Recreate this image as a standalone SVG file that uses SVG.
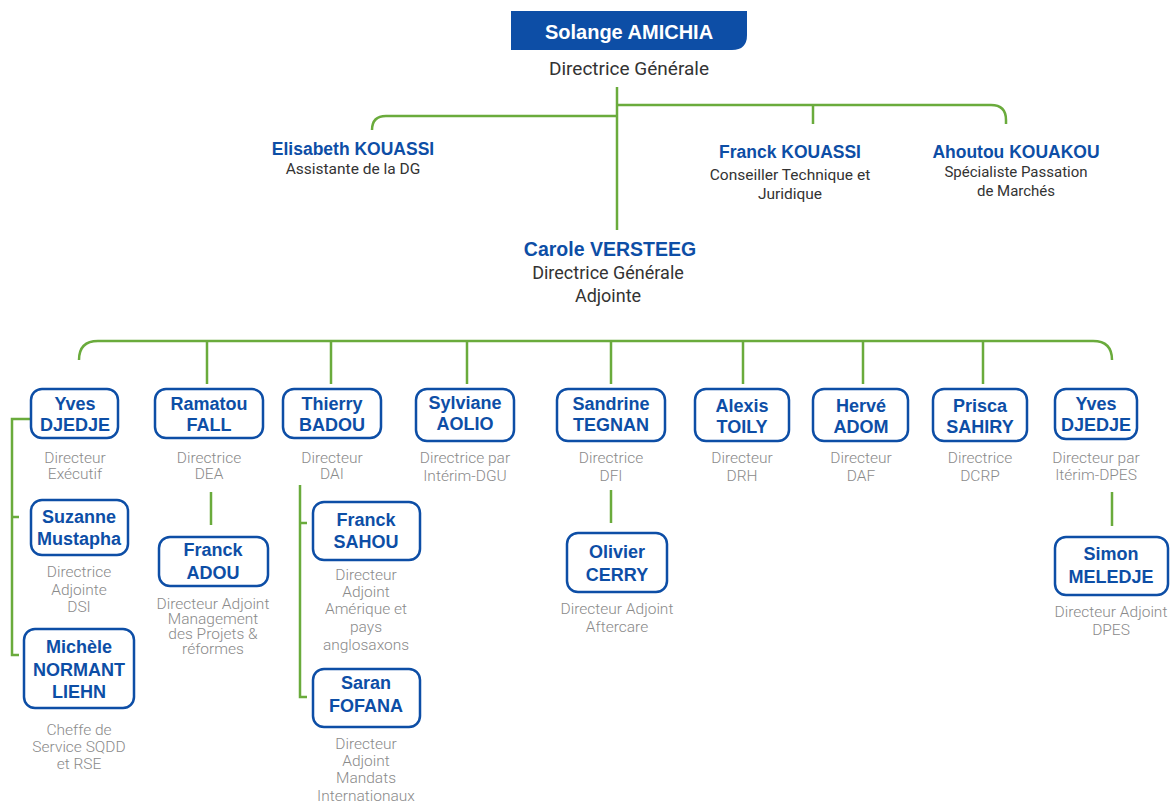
<svg xmlns="http://www.w3.org/2000/svg" width="1171" height="803" viewBox="0 0 1171 803">
<style>
.bg{fill:#ffffff}
.box{fill:#ffffff;stroke:#0d4ea6;stroke-width:2.5}
.nm{font-family:"Liberation Sans",Arial,sans-serif;font-weight:bold;font-size:18px;fill:#0d4ea6;text-anchor:middle}
.rl{font-family:Roboto,"Liberation Sans",sans-serif;font-weight:300;font-size:15.5px;fill:#8a8a8a;text-anchor:middle}
.tn{font-family:"Liberation Sans",Arial,sans-serif;font-weight:bold;fill:#0d4ea6;text-anchor:middle}
.tr{font-family:Roboto,"Liberation Sans",sans-serif;fill:#333333;text-anchor:middle}
.ln{fill:none;stroke:#6aab3c;stroke-width:2.5}
</style>
<rect class="bg" x="0" y="0" width="1171" height="803"/>
<g id="connectors">
<path class="ln" d="M617,87 V230"/>
<path class="ln" d="M617,105 H991 Q1006,105 1006,120 V124"/>
<path class="ln" d="M813,105 V124"/>
<path class="ln" d="M617,116 H386 Q372,116 372,130"/>
<path class="ln" d="M79,360 Q79,341 98,341 H1093 Q1112,341 1112,360"/>
<path class="ln" d="M207,341 V384 M331,341 V384 M467,341 V384 M611,341 V384 M743,341 V384 M863,341 V384 M983,341 V384"/>
<path class="ln" d="M31,419 H12 V655 H19 M12,517 H19"/>
<path class="ln" d="M300,485 V697 H307 M300,523 H307"/>
<path class="ln" d="M211,492 V525"/>
<path class="ln" d="M611,490 V523"/>
<path class="ln" d="M1112,492 V526"/>
</g>
<g id="n-solange">
<path d="M511,11 H747 V35 Q747,50 732,50 H511 Z" fill="#0d4ea6"/>
<text x="629" y="39" font-family="Liberation Sans,Arial,sans-serif" font-weight="bold" font-size="20" fill="#ffffff" text-anchor="middle">Solange AMICHIA</text>
<text class="tr" x="629" y="75" font-size="19">Directrice Générale</text>
</g>
<g id="n-elisabeth">
<text class="tn" x="353" y="155" font-size="17.5">Elisabeth KOUASSI</text>
<text class="tr" x="353" y="174" font-size="15.5">Assistante de la DG</text>
</g>
<g id="n-franck-kouassi">
<text class="tn" x="790" y="158" font-size="17.5">Franck KOUASSI</text>
<text class="tr" x="790" y="180" font-size="15.5">Conseiller Technique et</text>
<text class="tr" x="790" y="199" font-size="15.5">Juridique</text>
</g>
<g id="n-ahoutou">
<text class="tn" x="1016" y="158" font-size="17.5">Ahoutou KOUAKOU</text>
<text class="tr" x="1016" y="177" font-size="15">Spécialiste Passation</text>
<text class="tr" x="1016" y="196" font-size="15">de Marchés</text>
</g>
<g id="n-carole">
<text class="tn" x="610" y="256" font-size="19.5">Carole VERSTEEG</text>
<text class="tr" x="608" y="279" font-size="18">Directrice Générale</text>
<text class="tr" x="608" y="302" font-size="18">Adjointe</text>
</g>
<g id="n-yves1">
<rect class="box" x="31" y="389" width="87" height="49" rx="11"/>
<text class="nm" x="75" y="410">Yves</text>
<text class="nm" x="75" y="431">DJEDJE</text>
<text class="rl" x="75" y="463">Directeur</text>
<text class="rl" x="75" y="479">Exécutif</text>
</g>
<g id="n-ramatou">
<rect class="box" x="155" y="389" width="108" height="49" rx="11"/>
<text class="nm" x="209" y="410">Ramatou</text>
<text class="nm" x="209" y="431">FALL</text>
<text class="rl" x="209" y="463">Directrice</text>
<text class="rl" x="209" y="479">DEA</text>
</g>
<g id="n-thierry">
<rect class="box" x="283" y="389" width="98" height="49" rx="11"/>
<text class="nm" x="332" y="410">Thierry</text>
<text class="nm" x="332" y="431">BADOU</text>
<text class="rl" x="332" y="463">Directeur</text>
<text class="rl" x="332" y="479">DAI</text>
</g>
<g id="n-sylviane">
<rect class="box" x="416" y="389" width="98" height="52" rx="11"/>
<text class="nm" x="465" y="409">Sylviane</text>
<text class="nm" x="465" y="430">AOLIO</text>
<text class="rl" x="465" y="463">Directrice par</text>
<text class="rl" x="465" y="481">Intérim-DGU</text>
</g>
<g id="n-sandrine">
<rect class="box" x="557" y="389" width="108" height="52" rx="11"/>
<text class="nm" x="611" y="410">Sandrine</text>
<text class="nm" x="611" y="431">TEGNAN</text>
<text class="rl" x="611" y="463">Directrice</text>
<text class="rl" x="611" y="481">DFI</text>
</g>
<g id="n-alexis">
<rect class="box" x="695" y="389" width="94" height="52" rx="11"/>
<text class="nm" x="742" y="412">Alexis</text>
<text class="nm" x="742" y="433">TOILY</text>
<text class="rl" x="742" y="463">Directeur</text>
<text class="rl" x="742" y="481">DRH</text>
</g>
<g id="n-herve">
<rect class="box" x="813" y="389" width="95" height="52" rx="11"/>
<text class="nm" x="861" y="412">Hervé</text>
<text class="nm" x="861" y="433">ADOM</text>
<text class="rl" x="861" y="463">Directeur</text>
<text class="rl" x="861" y="481">DAF</text>
</g>
<g id="n-prisca">
<rect class="box" x="933" y="389" width="94" height="52" rx="11"/>
<text class="nm" x="980" y="412">Prisca</text>
<text class="nm" x="980" y="433">SAHIRY</text>
<text class="rl" x="980" y="463">Directrice</text>
<text class="rl" x="980" y="481">DCRP</text>
</g>
<g id="n-yves2">
<rect class="box" x="1055" y="389" width="82" height="50" rx="11"/>
<text class="nm" x="1096" y="410">Yves</text>
<text class="nm" x="1096" y="431">DJEDJE</text>
<text class="rl" x="1096" y="463">Directeur par</text>
<text class="rl" x="1096" y="480">Itérim-DPES</text>
</g>
<g id="n-suzanne">
<rect class="box" x="31" y="500" width="97" height="55" rx="11"/>
<text class="nm" x="79" y="523">Suzanne</text>
<text class="nm" x="79" y="545">Mustapha</text>
<text class="rl" x="79" y="577">Directrice</text>
<text class="rl" x="79" y="595">Adjointe</text>
<text class="rl" x="79" y="612">DSI</text>
</g>
<g id="n-michele">
<rect class="box" x="24" y="629" width="110" height="79" rx="11"/>
<text class="nm" x="79" y="653">Michèle</text>
<text class="nm" x="79" y="676">NORMANT</text>
<text class="nm" x="79" y="698">LIEHN</text>
<text class="rl" x="79" y="735">Cheffe de</text>
<text class="rl" x="79" y="752">Service SQDD</text>
<text class="rl" x="79" y="769">et RSE</text>
</g>
<g id="n-franck-adou">
<rect class="box" x="159" y="537" width="109" height="49" rx="11"/>
<text class="nm" x="213" y="556">Franck</text>
<text class="nm" x="213" y="579">ADOU</text>
<text class="rl" x="213" y="609" font-size="15">Directeur Adjoint</text>
<text class="rl" x="213" y="624" font-size="15">Management</text>
<text class="rl" x="213" y="639" font-size="15">des Projets &amp;</text>
<text class="rl" x="213" y="654" font-size="15">réformes</text>
</g>
<g id="n-franck-sahou">
<rect class="box" x="313" y="502" width="107" height="58" rx="11"/>
<text class="nm" x="366" y="526">Franck</text>
<text class="nm" x="366" y="548">SAHOU</text>
<text class="rl" x="366" y="580">Directeur</text>
<text class="rl" x="366" y="597">Adjoint</text>
<text class="rl" x="366" y="614">Amérique et</text>
<text class="rl" x="366" y="632">pays</text>
<text class="rl" x="366" y="650">anglosaxons</text>
</g>
<g id="n-saran">
<rect class="box" x="313" y="669" width="107" height="58" rx="11"/>
<text class="nm" x="366" y="689">Saran</text>
<text class="nm" x="366" y="712">FOFANA</text>
<text class="rl" x="366" y="749">Directeur</text>
<text class="rl" x="366" y="766">Adjoint</text>
<text class="rl" x="366" y="783">Mandats</text>
<text class="rl" x="366" y="801">Internationaux</text>
</g>
<g id="n-olivier">
<rect class="box" x="567" y="533" width="100" height="59" rx="11"/>
<text class="nm" x="617" y="558">Olivier</text>
<text class="nm" x="617" y="581">CERRY</text>
<text class="rl" x="617" y="614">Directeur Adjoint</text>
<text class="rl" x="617" y="632">Aftercare</text>
</g>
<g id="n-simon">
<rect class="box" x="1055" y="537" width="113" height="58" rx="11"/>
<text class="nm" x="1111" y="560">Simon</text>
<text class="nm" x="1111" y="583">MELEDJE</text>
<text class="rl" x="1111" y="617">Directeur Adjoint</text>
<text class="rl" x="1111" y="635">DPES</text>
</g>
</svg>
